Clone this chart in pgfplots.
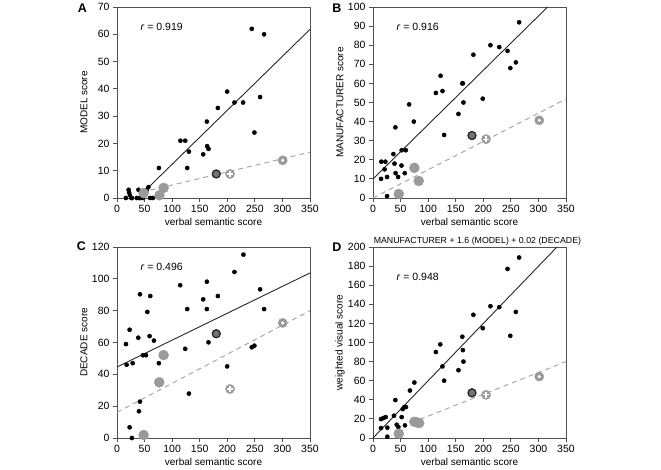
\documentclass[border=0pt]{standalone}
\usepackage{pgfplots}
\pgfplotsset{compat=1.18}
\usepackage{fontspec}
\setmainfont{Liberation Sans}
\setsansfont{Liberation Sans}

\definecolor{dotgray}{HTML}{9A9A9A}
\definecolor{linegray}{HTML}{A8A8A8}
\definecolor{framegray}{HTML}{505050}

\tikzset{
  rtext/.style={anchor=west, font=\fontsize{10.5}{12}\selectfont},
  letter/.style={font=\bfseries\fontsize{12.5}{14}\selectfont},
}

\pgfplotsset{
  panel/.style={
    scale only axis,
    width=193pt, height=191pt,
    xmin=0, xmax=350, ymin=0,
    xtick={0,50,...,350},
    tick align=outside,
    tick pos=left,
    major tick length=4pt,
    axis line style={framegray, line width=0.8pt},
    tick style={framegray, line width=0.8pt},
    tick label style={font=\fontsize{10.5}{12}\selectfont},
    label style={font=\fontsize{10.5}{12}\selectfont},
    /pgf/number format/assume math mode=true,
    xlabel={verbal semantic score},
    every axis x label/.style={at={(axis description cs:0.5,-0.126)}, anchor=center},
    every axis y label/.style={at={(axis description cs:-0.171,0.5)}, anchor=center, rotate=90},
    clip=false,
  },
  fitline/.style={black!85, line width=0.9pt, no marks},
  grayfit/.style={linegray, line width=1pt, dash pattern=on 5pt off 4pt, no marks},
  blackdot/.style={only marks, mark=*, mark size=2.1pt, mark options={fill=black, draw=black}},
  graydot/.style={only marks, mark=*, mark size=5pt, mark options={fill=dotgray, draw=dotgray}},
  omark/.style={only marks, mark=*, mark size=4pt, mark options={fill=black!55, draw=black!85, line width=1.3pt}},
  pluscirc/.style={only marks, mark=*, mark size=4.6pt, mark options={fill=dotgray, draw=dotgray}},
  plusin/.style={only marks, mark=+, mark size=3pt, mark options={draw=white, line width=1.2pt}},
  ringin/.style={only marks, mark=*, mark size=1.4pt, mark options={fill=white, draw=white}},
}

\begin{document}
\begin{tikzpicture}
\useasboundingbox (0pt,0pt) rectangle (661pt,470pt);

% A: MODEL
\begin{axis}[panel, at={(117pt,272pt)}, anchor=south west,
  ymax=70, ytick={0,10,...,70}, ylabel={MODEL score}]
  \addplot[fitline] coordinates {(45,1.5) (350,61.8)};
  \addplot[grayfit] coordinates {(45,2.1) (350,16.8)};
  \addplot[blackdot] coordinates {
    (244.4,62) (266.7,60) (199.8,39) (182.9,33) (213,35) (228.7,35)
    (259.5,37) (249.2,24) (163,28) (115,21) (123.7,21) (130.4,17)
    (163.5,19) (165.9,18) (156.3,16) (127.3,11) (76,11)
    (16,0) (21,3) (22,2) (23.5,1) (26,0) (27,0) (36,0) (39,3)
    (40,0) (42,0) (47,0) (52,2) (54,3) (57,4) (60,0) (65,0)
  };
  \addplot[graydot] coordinates {(48.3,1.8) (77,1) (84.5,3.7)};
  \addplot[omark] coordinates {(180,8.8)};
  \addplot[pluscirc] coordinates {(205,8.8)};
  \addplot[plusin] coordinates {(205,8.8)};
  \addplot[pluscirc] coordinates {(300.5,13.8)};
  \addplot[ringin] coordinates {(300.5,13.8)};
  \node[rtext] at (rel axis cs:0.104,0.894) {\textit{r} = 0.919};
\end{axis}

% B: MANUFACTURER
\begin{axis}[panel, at={(373pt,272pt)}, anchor=south west,
  ymax=100, ytick={0,10,...,100}, ylabel={MANUFACTURER score}]
  \addplot[fitline] coordinates {(0,10) (316.6,100)};
  \addplot[grayfit] coordinates {(0,0) (350,51.8)};
  \addplot[blackdot] coordinates {
    (265,92) (213,80) (229,79) (244,77) (259,71) (249,68) (182,75)
    (122.5,64) (126,56) (114,55) (162,60) (163,60) (164,50) (199,52)
    (155,44) (129,33) (65.5,49) (74,40) (40.6,37) (37,23) (52,25)
    (59.5,25) (15,19) (22.4,19) (39,18) (51.6,17) (21,15) (14.6,10)
    (25.5,11) (41,13) (45.5,11) (57.6,13) (25.5,1)
  };
  \addplot[graydot] coordinates {(46.7,2.1) (75,15.8) (83,8.9)};
  \addplot[omark] coordinates {(179.5,32.7)};
  \addplot[pluscirc] coordinates {(205,30.8)};
  \addplot[plusin] coordinates {(205,30.8)};
  \addplot[pluscirc] coordinates {(301.5,40.7)};
  \addplot[ringin] coordinates {(301.5,40.7)};
  \node[rtext] at (rel axis cs:0.104,0.894) {\textit{r} = 0.916};
\end{axis}

% C: DECADE
\begin{axis}[panel, at={(117pt,32pt)}, anchor=south west,
  ymax=120, ytick={0,20,...,120}, ylabel={DECADE score}]
  \addplot[fitline] coordinates {(0,44.6) (350,103.7)};
  \addplot[grayfit] coordinates {(0,16.1) (350,80)};
  \addplot[blackdot] coordinates {
    (229.3,115.2) (213,104.3) (114.6,96) (163,98.2) (156.3,87.1)
    (182.9,89.2) (163,81) (127.3,81) (259.5,93.4) (266.7,81)
    (41.6,90.3) (60.3,89.2) (54.9,79.2) (22.9,68) (38.6,63) (59.1,64)
    (67,61.2) (16.3,59) (17.5,46) (28.4,47) (47,52) (52.5,52) (76,47)
    (123.7,56) (165.9,60.1) (199.8,45) (244.4,57) (249.2,58)
    (130.4,27.9) (41.6,22.8) (39.8,16.8) (22.9,6.7) (27,0)
  };
  \addplot[graydot] coordinates {(48.3,1.9) (76.6,35) (84.5,52.1)};
  \addplot[omark] coordinates {(180,65.5)};
  \addplot[pluscirc] coordinates {(205,30.8)};
  \addplot[plusin] coordinates {(205,30.8)};
  \addplot[pluscirc] coordinates {(300.5,72.3)};
  \addplot[ringin] coordinates {(300.5,72.3)};
  \node[rtext] at (rel axis cs:0.104,0.895) {\textit{r} = 0.496};
\end{axis}

% D: weighted visual
\begin{axis}[panel, at={(373pt,32pt)}, anchor=south west,
  ymax=200, ytick={0,20,...,200}, ylabel={weighted visual score}]
  \addplot[fitline] coordinates {(0,0) (333.6,200)};
  \addplot[grayfit] coordinates {(85,19.5) (350,80)};
  \addplot[blackdot] coordinates {
    (14.5,19.8) (18.7,20.9) (23,21.9) (14.5,10.4) (26,10.8) (26,1.4)
    (38,23.3) (40.5,39.7) (43,13.9) (46,11.5) (52,21.9) (53.9,30.3)
    (56.8,32.4) (59.8,32.4) (58,13.2) (67,49.7) (75,58.1)
    (114,90) (122,98) (126,75) (129,60) (155,71) (162,106) (163,92)
    (164,80) (182,129) (199,115) (213,138) (229,137) (244,177)
    (249,107) (259,132) (265,189)
  };
  \addplot[graydot] coordinates {(46.7,4.5) (75,17) (79,16.5) (83.7,15.7)};
  \addplot[omark] coordinates {(179.5,47.3)};
  \addplot[pluscirc] coordinates {(205,45.2)};
  \addplot[plusin] coordinates {(205,45.2)};
  \addplot[pluscirc] coordinates {(301.5,64.3)};
  \addplot[ringin] coordinates {(301.5,64.3)};
  \node[rtext] at (rel axis cs:0.104,0.843) {\textit{r} = 0.948};
  \node[font=\fontsize{8.8}{10}\selectfont] at (rel axis cs:0.541,1.031)
    {MANUFACTURER + 1.6 (MODEL) + 0.02 (DECADE)};
\end{axis}

\node[letter] at (82.5pt,461.5pt) {A};
\node[letter] at (337pt,461.5pt) {B};
\node[letter] at (81.5pt,223.5pt) {C};
\node[letter] at (337pt,222.5pt) {D};
\end{tikzpicture}
\end{document}
